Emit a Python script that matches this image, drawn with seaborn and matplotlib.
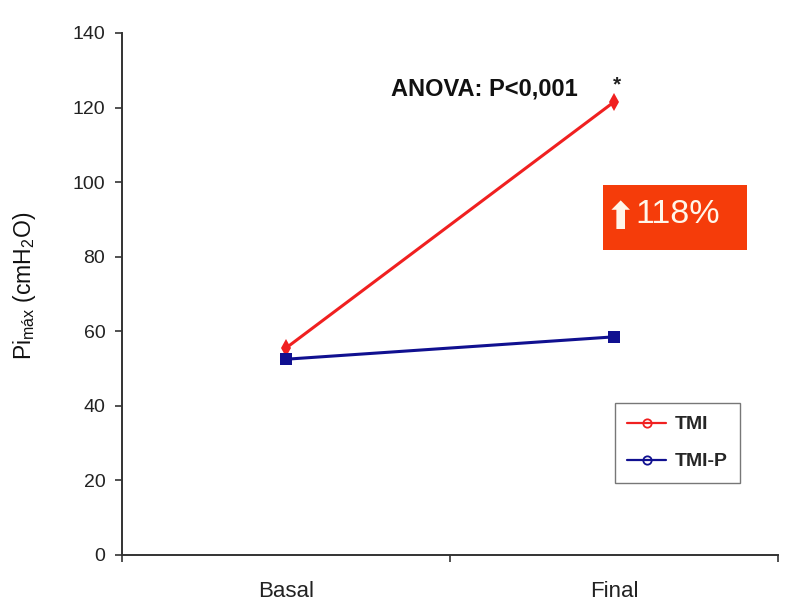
import matplotlib

matplotlib.use("Agg")
import matplotlib.pyplot as plt
import pandas as pd
import seaborn as sns
from matplotlib.lines import Line2D
from matplotlib.patches import Rectangle

# values
categories = ["Basal", "Final"]
tmi_values = [55.5, 121.5]
tmip_values = [52.5, 58.5]
series_names = ["TMI", "TMI-P"]
y_ticks = [0, 20, 40, 60, 80, 100, 120, 140]

df = pd.DataFrame(
    {
        "momento": categories * 2,
        "valor": tmi_values + tmip_values,
        "grupo": [series_names[0]] * 2 + [series_names[1]] * 2,
    }
)

sns.set_theme(style="white")
plt.rcParams["font.family"] = ["Liberation Sans", "DejaVu Sans"]
plt.rcParams["mathtext.default"] = "regular"

fig = plt.figure(figsize=(7.88, 6.07), dpi=100)
ax = fig.add_axes([0.1548, 0.0857, 0.8325, 0.86])

palette = {"TMI": "#f02020", "TMI-P": "#101090"}
sns.lineplot(
    data=df,
    x="momento",
    y="valor",
    hue="grupo",
    style="grupo",
    markers={"TMI": "d", "TMI-P": "s"},
    dashes=False,
    palette=palette,
    linewidth=2.2,
    markersize=9,
    markeredgewidth=0,
    ax=ax,
)

ax.set_xlim(-0.5, 1.5)
ax.set_ylim(0, 140)
ax.set_yticks(y_ticks)
ax.set_xticks([0, 1])
ax.set_xticklabels(categories, fontsize=16)
ax.set_xticks([-0.5, 0.5, 1.5], minor=True)
ax.tick_params(axis="x", which="major", bottom=True, length=0, pad=19, labelcolor="#222222")
ax.tick_params(axis="x", which="minor", bottom=True, length=5, direction="out", color="#333333", width=1.2)
ax.tick_params(axis="y", left=True, length=5, direction="out", color="#333333", width=1.2,
               labelsize=14, pad=7, labelcolor="#222222")
ax.set_xlabel("")
ax.set_ylabel("Pi$_{máx}$ (cmH$_2$O)", fontsize=16.5, color="#111111")
ax.yaxis.set_label_coords(-0.128, 0.515)

for side in ["top", "right"]:
    ax.spines[side].set_visible(False)
for side in ["left", "bottom"]:
    ax.spines[side].set_color("#333333")
    ax.spines[side].set_linewidth(1.4)

# legend
leg_handles = [
    Line2D([], [], color=palette[n], marker="o", markersize=6, markerfacecolor="none",
           markeredgewidth=1.3, linewidth=1.6)
    for n in series_names
]
leg = ax.legend(
    leg_handles,
    series_names,
    loc="upper left",
    bbox_to_anchor=(0.751, 0.291),
    frameon=True,
    fancybox=False,
    edgecolor="#555555",
    handlelength=2.0,
    handletextpad=0.45,
    labelspacing=1.0,
    borderpad=0.65,
    borderaxespad=0,
    prop={"weight": "bold", "size": 14},
)
leg.get_frame().set_linewidth(1.0)

# annotations
ax.text(0.605, 125, "ANOVA: P<0,001", fontsize=17, fontweight="bold", ha="center", va="center",
        color="#111111")
ax.text(1.01, 126, "*", fontsize=15, fontweight="bold", ha="center", va="center", color="#222222")
ax.add_patch(Rectangle((0.733, 0.584), 0.22, 0.125, transform=ax.transAxes,
                       facecolor="#f53c0a", edgecolor="none", zorder=3))
ax.text(0.847, 0.652, "118%", transform=ax.transAxes, fontsize=24.5, color="#fff6ea",
        ha="center", va="center", zorder=4)
ax.text(0.760, 0.643, "\u2b06", transform=ax.transAxes, fontsize=27, color="#fff6ea",
        ha="center", va="center", family=["DejaVu Sans"], zorder=4)

fig.savefig("out.png", dpi=100)
